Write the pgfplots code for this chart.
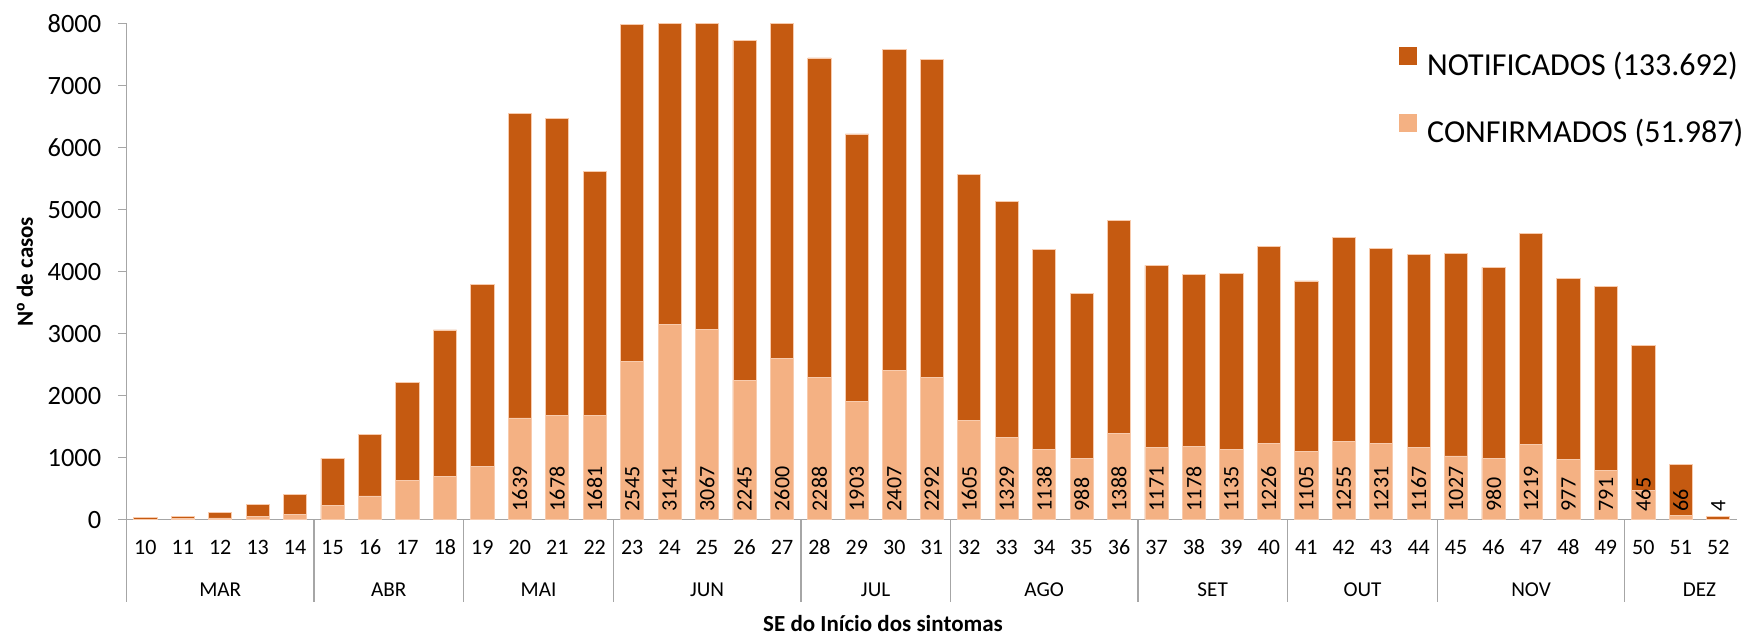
\documentclass[border=0pt]{standalone}
\usepackage{pgfplots}
\pgfplotsset{compat=1.18}
\usepackage{pgfplotstable}
\usepackage{fontspec}
\setmainfont{Carlito}
\newfontfamily\lib{Liberation Sans}
\definecolor{notif}{HTML}{C55A11}
\definecolor{conf}{HTML}{F4B183}
\definecolor{edge}{HTML}{F8CBAD}
\definecolor{axisgray}{HTML}{A6A6A6}

\pgfplotstableread{
w n c
10 35 8
11 50 15
12 115 27
13 251 49
14 409 76
15 987 234
16 1374 382
17 2214 627
18 3059 698
19 3800 856
20 6549 1639
21 6478 1678
22 5622 1681
23 7990 2545
24 8000 3141
25 8000 3067
26 7732 2245
27 8000 2600
28 7448 2288
29 6221 1903
30 7585 2407
31 7416 2292
32 5567 1605
33 5131 1329
34 4351 1138
35 3653 988
36 4820 1388
37 4100 1171
38 3953 1178
39 3975 1135
40 4400 1226
41 3850 1105
42 4547 1255
43 4378 1231
44 4280 1167
45 4297 1027
46 4068 980
47 4613 1219
48 3893 977
49 3757 791
50 2808 465
51 883 66
52 44 4
}\data

\begin{document}
\begin{tikzpicture}
\begin{axis}[
  name=ax,
  scale only axis, width=805.2pt, height=247.95pt,
  xmin=9.5, xmax=52.5, ymin=0, ymax=8000,
  clip mode=individual,
  axis x line*=bottom, axis y line*=left,
  axis line style={draw=axisgray, line width=0.9pt},
  tick align=outside,
  /pgf/number format/assume math mode=true,
  /pgf/number format/1000 sep={},
  scaled y ticks=false,
  major tick length=0pt,
  tick style={draw=axisgray, line width=0.8pt},
  xtick={10,...,52},
  xticklabel style={font=\fontsize{11}{13}\selectfont, anchor=base, yshift=-17.7pt, inner sep=0pt},
  extra x ticks={9.5,14.5,18.5,22.5,27.5,31.5,36.5,40.5,44.5,49.5},
  extra x tick labels={},
  extra x tick style={major tick length=41pt},
  ytick={0,1000,...,8000},
  yticklabel style={font=\fontsize{13.2}{15}\selectfont, anchor=east, inner sep=0pt, xshift=-12.5pt},
  extra y ticks={0,1000,...,8000},
  extra y tick labels={},
  extra y tick style={major tick length=4.2pt},
  xlabel={SE do Início dos sintomas},
  ylabel={N{\lib º} de casos},
  every axis x label/.style={at={(axis description cs:0.4697,0)}, anchor=base, yshift=-56pt, font=\bfseries\fontsize{11.5}{13}\selectfont},
  every axis y label/.style={at={(axis description cs:-0.0631,0.5)}, rotate=90, anchor=center, font=\bfseries\fontsize{11.5}{13}\selectfont},
  legend style={at={(axis description cs:0.7900,0.953)}, anchor=north west, draw=none, fill=none,
    inner sep=0pt, row sep=17.8pt, font=\fontsize{16}{19}\selectfont,
    nodes={inner sep=0pt},
    /tikz/every odd column/.append style={column sep=5pt}},
  legend cell align=left,
  legend image code/.code={\fill[#1, draw=none] (0pt,0pt) rectangle (9pt,9pt);},
]
\addplot[ybar, bar width=11.6pt, bar shift=0pt, fill=notif, draw=edge, line width=0.4pt] table[x=w, y=n] {\data};
\addlegendentry{NOTIFICADOS (133.692)}
\addplot[ybar, bar width=11.6pt, bar shift=0pt, fill=conf, draw=edge, line width=0.4pt] table[x=w, y=c] {\data};
\addlegendentry{CONFIRMADOS (51.987)}
\addplot[draw=none, mark=none, forget plot, skip coords between index={0}{10},
  nodes near coords, point meta=explicit symbolic,
  nodes near coords style={yshift=4pt, rotate=90, anchor=west, inner sep=0pt, font=\fontsize{11}{12}\selectfont, text=black}]
  table[x=w, y expr=0, meta=c] {\data};
\foreach \m/\p in {MAR/12, ABR/16.5, MAI/20.5, JUN/25, JUL/29.5, AGO/34, SET/38.5, OUT/42.5, NOV/47, DEZ/51.5}{
  \edef\tmp{\noexpand\node[font=\noexpand\fontsize{10.6}{12}\noexpand\selectfont, anchor=base, inner sep=0pt, yshift=-38.5pt] at (axis cs:\p,0) {\m};}
  \tmp
}
\end{axis}
\pgfresetboundingbox
\path[use as bounding box] (ax.south west) ++(-63.3pt,-58.2pt) rectangle ++(872pt,318pt);
\end{tikzpicture}
\end{document}
